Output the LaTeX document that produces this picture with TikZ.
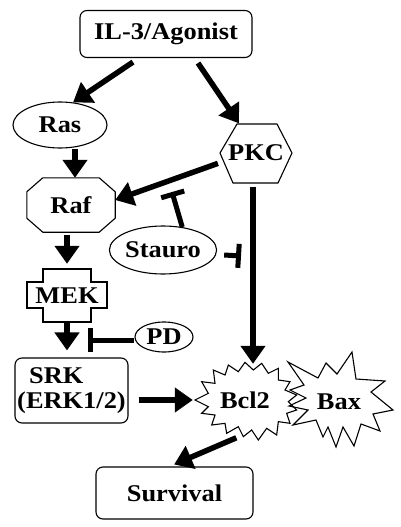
\documentclass[tikz,border=0pt]{standalone}
\usepackage{fontspec}
\setmainfont{Liberation Serif}
\usetikzlibrary{arrows.meta,shapes.geometric}
\newcommand\wtx[1]{\scalebox{1.1}[1]{#1}}
\tikzset{
  lbl/.style={font=\bfseries\fontsize{24}{25}\selectfont, inner sep=0pt},
  shp/.style={draw, line width=1.1pt},
  box/.style={lbl, shp, rounded corners=7pt},
  oval/.style={lbl, shp, ellipse},
  outline/.style={line width=1.1pt, line join=miter},
  arr/.style={line width=5.5pt, -{Triangle[length=18pt,width=24pt]}},
  inh/.style={line width=5pt, -{Bar[width=24pt]}}
}
\begin{document}
\begin{tikzpicture}[x=1pt,y=-1pt]
\useasboundingbox (0,0) rectangle (400,527);
% nodes
\node[box, minimum width=172pt, minimum height=47pt] (il3) at (166,34) {\wtx{IL-3/Agonist}};
\node[oval, minimum width=94pt, minimum height=46pt] (ras) at (60,125) {\wtx{Ras}};
\node[lbl, minimum width=72pt, minimum height=59pt] (pkc) at (256,153) {\wtx{PKC}};
\draw[outline, shift={(pkc.center)}]
  (-36,0) -- (-19,-29) -- (21,-29) -- (36,0) -- (22,30) -- (-23,30) -- cycle;
\node[lbl, minimum width=88pt, minimum height=54pt] (raf) at (71,205) {\wtx{Raf}};
\draw[outline] ([xshift=16pt]raf.north west) -- ([xshift=-16pt]raf.north east)
  -- ([yshift=-14pt]raf.north east) -- ([yshift=14pt]raf.south east)
  -- ([xshift=-16pt]raf.south east) -- ([xshift=16pt]raf.south west)
  -- ([yshift=14pt]raf.south west) -- ([yshift=-14pt]raf.north west) -- cycle;
\node[oval, minimum width=99pt, minimum height=48pt] (stauro) at (163,250) {\wtx{Stauro}};
\node[lbl, minimum width=80pt, minimum height=53pt] (mek) at (67,295.5) {\wtx{MEK}};
\draw[outline, shift={(mek.center)}]
  (-24,-26.5) -- (24,-26.5) -- (24,-13.5) -- (40,-13.5) -- (40,12.5) -- (24,12.5)
  -- (24,26.5) -- (-24,26.5) -- (-24,12.5) -- (-40,12.5) -- (-40,-13.5) -- (-24,-13.5) -- cycle;
\node[oval, minimum width=58pt, minimum height=30pt] (pd) at (164,337) {\wtx{PD}};
\node[box, minimum width=113pt, minimum height=65pt, align=left] (srk) at (71.5,390.5)
  {\hspace*{12pt}\wtx{SRK}\\\wtx{(ERK1/2)}};
\node[lbl, minimum width=100pt, minimum height=72pt] (bcl2) at (245,400) {\wtx{Bcl2}};
\draw[outline, shift={(190,355)}, scale=1/3]
  (15,135) -- (55,115) -- (35,80) -- (75,85) -- (70,45) -- (105,60) -- (115,30)
  -- (145,50) -- (165,22) -- (190,45) -- (215,25) -- (235,55) -- (265,40) -- (265,75)
  -- (300,80) -- (285,105) -- (320,120) -- (295,140) -- (320,165) -- (290,175)
  -- (300,205) -- (265,200) -- (260,240) -- (230,220) -- (205,255) -- (185,225)
  -- (160,245) -- (145,215) -- (110,235) -- (105,205) -- (65,210) -- (75,180)
  -- (35,175) -- (55,155) -- cycle;
\node[lbl, minimum width=100pt, minimum height=90pt] (bax) at (339,402) {\wtx{Bax}};
\draw[outline]
  (288,362) -- (318,378) -- (326,363) -- (337,374) -- (352,352) -- (356,379)
  -- (385,381) -- (371,392) -- (393,410) -- (373,414) -- (380,431) -- (361,424)
  -- (354,446) -- (343,427) -- (336,447) -- (328,427) -- (323,437) -- (316,420)
  -- (293,425) -- (308,410) -- (289,406) -- (306,398) -- (290,390) -- (304,385) -- cycle;
\node[box, minimum width=157pt, minimum height=52pt] (surv) at (174.5,493) {\wtx{Survival}};
% inhibition end points
\coordinate (sinh1) at (172,192);
\coordinate (sinh2) at (241,256);
\coordinate (pdinh) at (88,340);
% connectors
\draw[arr] ([shift={(-33pt,-4pt)}]il3.south) -- (ras.60);
\draw[arr] ([shift={(32pt,-5pt)}]il3.south) -- (pkc.120);
\draw[arr] ([xshift=15pt]ras.south) -- ([xshift=15pt]ras.south |- raf.north);
\draw[arr, shorten <=2pt] (pkc.195) -- ([yshift=5pt]raf.east);
\draw[arr, shorten <=3pt, shorten >=5pt] ([xshift=-4pt]raf.south) -- ([xshift=-4pt]raf.south |- mek.north);
\draw[arr, shorten >=7pt] (mek.south) -- (mek.south |- srk.north);
\draw[arr, shorten <=4pt] ([xshift=-3pt]pkc.south) -- ([xshift=-3pt]pkc.south |- bcl2.north);
\draw[arr, shorten <=10pt, shorten >=2pt] ([yshift=-9.5pt]srk.east) -- (bcl2.west);
\draw[arr, shorten <=4pt, shorten >=5pt] ([xshift=-5pt]bcl2.south) -- ([xshift=-5pt]surv.north);
\draw[inh] (stauro.50) -- (sinh1);
\draw[inh] ([shift={(7pt,-5pt)}]stauro.east) -- (sinh2);
\draw[inh] ([yshift=-3pt]pd.west) -- (pdinh);
\end{tikzpicture}
\end{document}
